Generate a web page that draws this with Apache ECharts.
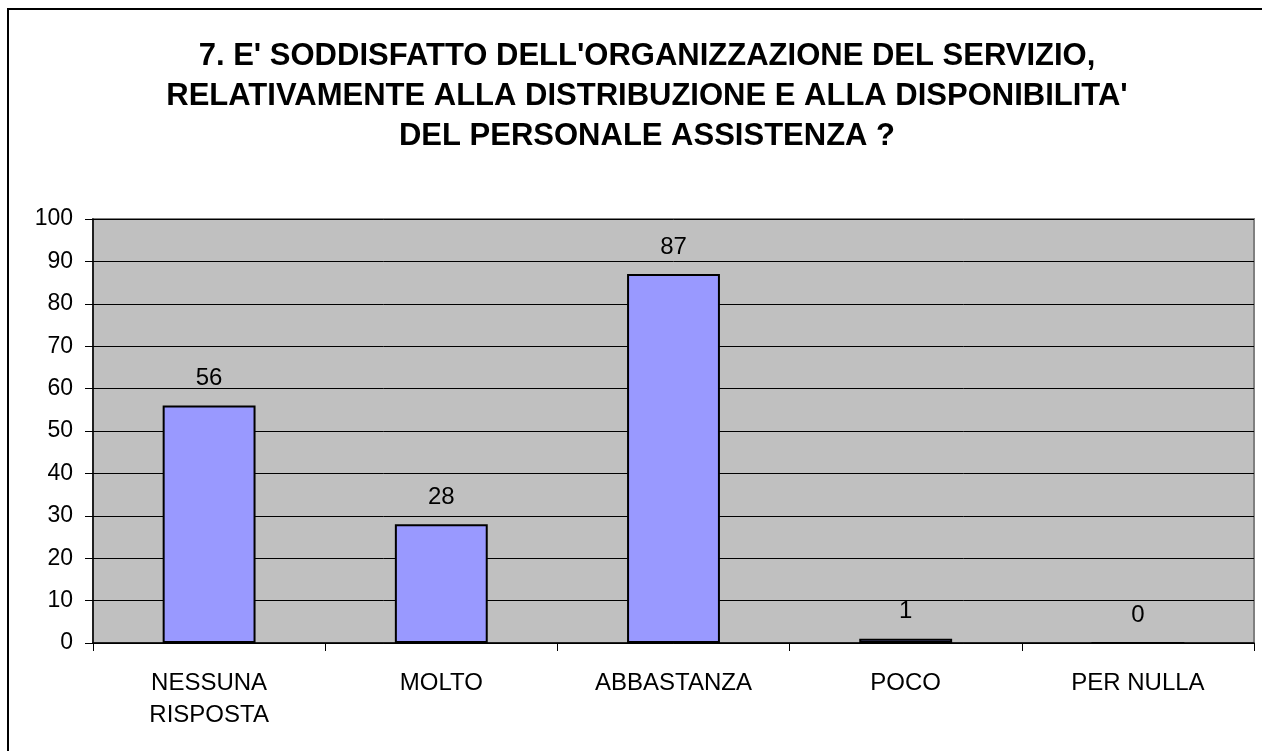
<!DOCTYPE html>
<html>
<head>
<meta charset="utf-8">
<script src="https://cdn.jsdelivr.net/npm/echarts@6/dist/echarts.min.js"></script>
<style>
  html, body { margin: 0; padding: 0; background: #fff; }
  #chart { width: 1262px; height: 751px; }
</style>
</head>
<body>
<div id="chart"></div>
<script>
// dati del grafico
var categories = ['NESSUNA\nRISPOSTA', 'MOLTO', 'ABBASTANZA', 'POCO', 'PER NULLA'];
var values = [56, 28, 87, 1, 0];
var titleText = "7. E' SODDISFATTO DELL'ORGANIZZAZIONE DEL SERVIZIO,\nRELATIVAMENTE ALLA DISTRIBUZIONE E ALLA DISPONIBILITA'\nDEL PERSONALE ASSISTENZA ?";

var font = 'Arial, "Liberation Sans", sans-serif';
var myChart = echarts.init(document.getElementById('chart'));

var option = {
  animation: false,
  title: {
    text: titleText,
    left: 642,
    top: 31,
    textAlign: 'center',
    textStyle: {
      fontFamily: font,
      fontWeight: 'bold',
      fontSize: 31,
      lineHeight: 40,
      color: '#000'
    }
  },
  // cornice esterna
  graphic: [{
    type: 'rect',
    shape: { x: 8, y: 9, width: 1300, height: 800 },
    style: { fill: 'none', stroke: '#000', lineWidth: 2 },
    silent: true
  }],
  grid: {
    left: 93,
    top: 219,
    right: 8,
    bottom: 108,
    show: true,
    backgroundColor: '#C0C0C0',
    borderColor: '#808080',
    borderWidth: 2
  },
  xAxis: {
    type: 'category',
    data: categories,
    axisLine: { lineStyle: { color: '#000', width: 1.5 } },
    axisTick: { show: true, length: 8, lineStyle: { color: '#000' } },
    axisLabel: {
      margin: 24,
      fontFamily: font,
      fontSize: 24,
      lineHeight: 32,
      color: '#000',
      interval: 0
    }
  },
  yAxis: {
    type: 'value',
    min: 0,
    max: 100,
    interval: 10,
    axisLine: { show: true, lineStyle: { color: '#000', width: 1.5 } },
    axisTick: { show: true, length: 8, lineStyle: { color: '#000' } },
    splitLine: { lineStyle: { color: '#000', width: 1 } },
    axisLabel: {
      margin: 20,
      fontFamily: font,
      fontSize: 23,
      color: '#000'
    }
  },
  series: [{
    type: 'bar',
    data: values,
    barWidth: '40%',
    itemStyle: {
      color: '#9999FF',
      borderColor: '#000',
      borderWidth: 2
    },
    label: {
      show: true,
      position: 'top',
      distance: 15,
      fontFamily: font,
      fontSize: 24,
      color: '#000'
    }
  }]
};

myChart.setOption(option);
</script>
</body>
</html>
